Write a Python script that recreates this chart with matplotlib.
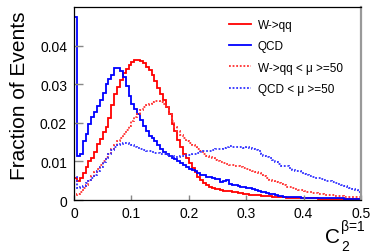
import numpy as np
import matplotlib
matplotlib.use('Agg')
import matplotlib.pyplot as plt

plt.rcParams['font.family'] = ['Liberation Sans', 'DejaVu Sans']

# histogramas: 100 bins de 0 a 0.5
bin_edges = np.linspace(0, 0.5, 101)

w_qq = [
    0.0058, 0.0048, 0.0058, 0.0070, 0.0085, 0.0100, 0.0110, 0.0125, 0.0145, 0.0158,
    0.0175, 0.0190, 0.0212, 0.0245, 0.0274, 0.0292, 0.0310, 0.0328, 0.0340, 0.0351,
    0.0357, 0.0364, 0.0364, 0.0360, 0.0355, 0.0346, 0.0336, 0.0323, 0.0308, 0.0290,
    0.0276, 0.0258, 0.0240, 0.0222, 0.0198, 0.0178, 0.0155, 0.0138, 0.0120, 0.0108,
    0.0096, 0.0084, 0.0072, 0.0060, 0.0052, 0.0045, 0.0040, 0.0035, 0.0032, 0.0029,
    0.0028, 0.0026, 0.0024, 0.0024, 0.0023, 0.0021, 0.0020, 0.0019, 0.0017, 0.0016,
    0.0015, 0.0014, 0.0014, 0.0013, 0.0012, 0.0011, 0.0011, 0.0010, 0.0010, 0.0009,
    0.0008, 0.0008, 0.0007, 0.0007, 0.0006, 0.0006, 0.0005, 0.0005, 0.0005, 0.0005,
    0.0004, 0.0004, 0.0004, 0.0004, 0.0004, 0.0003, 0.0003, 0.0003, 0.0003, 0.0003,
    0.0003, 0.0003, 0.0002, 0.0002, 0.0002, 0.0002, 0.0002, 0.0002, 0.0002, 0.0002,
]

qcd = [
    0.0475, 0.0114, 0.0118, 0.0153, 0.0170, 0.0196, 0.0214, 0.0227, 0.0244, 0.0260,
    0.0278, 0.0300, 0.0313, 0.0323, 0.0343, 0.0343, 0.0334, 0.0318, 0.0295, 0.0270,
    0.0248, 0.0235, 0.0222, 0.0208, 0.0192, 0.0180, 0.0167, 0.0160, 0.0153, 0.0142,
    0.0133, 0.0124, 0.0118, 0.0114, 0.0110, 0.0106, 0.0100, 0.0096, 0.0092, 0.0086,
    0.0080, 0.0079, 0.0074, 0.0071, 0.0066, 0.0064, 0.0060, 0.0059, 0.0058, 0.0055,
    0.0054, 0.0047, 0.0050, 0.0052, 0.0042, 0.0040, 0.0038, 0.0036, 0.0034, 0.0033,
    0.0032, 0.0030, 0.0028, 0.0025, 0.0023, 0.0021, 0.0020, 0.0018, 0.0016, 0.0015,
    0.0012, 0.0011, 0.0010, 0.0009, 0.0009, 0.0008, 0.0007, 0.0007, 0.0007, 0.0006,
    0.0006, 0.0006, 0.0006, 0.0005, 0.0005, 0.0005, 0.0005, 0.0005, 0.0004, 0.0004,
    0.0004, 0.0004, 0.0004, 0.0004, 0.0003, 0.0003, 0.0003, 0.0003, 0.0003, 0.0003,
]

w_qq_pu = [
    0.0012, 0.0016, 0.0022, 0.0030, 0.0040, 0.0050, 0.0062, 0.0072, 0.0080, 0.0092,
    0.0102, 0.0112, 0.0120, 0.0132, 0.0142, 0.0152, 0.0162, 0.0172, 0.0182, 0.0193,
    0.0204, 0.0216, 0.0224, 0.0233, 0.0240, 0.0246, 0.0250, 0.0254, 0.0256, 0.0257,
    0.0254, 0.0250, 0.0240, 0.0222, 0.0205, 0.0190, 0.0178, 0.0168, 0.0160, 0.0153,
    0.0147, 0.0143, 0.0138, 0.0132, 0.0126, 0.0120, 0.0115, 0.0111, 0.0108, 0.0104,
    0.0100, 0.0098, 0.0096, 0.0094, 0.0092, 0.0091, 0.0089, 0.0088, 0.0086, 0.0084,
    0.0081, 0.0079, 0.0076, 0.0073, 0.0070, 0.0066, 0.0061, 0.0057, 0.0053, 0.0050,
    0.0047, 0.0044, 0.0041, 0.0038, 0.0035, 0.0033, 0.0031, 0.0028, 0.0026, 0.0025,
    0.0023, 0.0021, 0.0020, 0.0019, 0.0018, 0.0016, 0.0015, 0.0014, 0.0013, 0.0013,
    0.0012, 0.0011, 0.0010, 0.0010, 0.0009, 0.0009, 0.0008, 0.0008, 0.0007, 0.0007,
]

qcd_pu = [
    0.0059, 0.0030, 0.0033, 0.0037, 0.0044, 0.0052, 0.0058, 0.0065, 0.0074, 0.0086,
    0.0098, 0.0110, 0.0120, 0.0130, 0.0137, 0.0142, 0.0146, 0.0149, 0.0148, 0.0145,
    0.0143, 0.0138, 0.0136, 0.0132, 0.0130, 0.0127, 0.0126, 0.0124, 0.0122, 0.0121,
    0.0119, 0.0118, 0.0117, 0.0115, 0.0113, 0.0112, 0.0112, 0.0113, 0.0114, 0.0116,
    0.0117, 0.0118, 0.0120, 0.0122, 0.0124, 0.0126, 0.0127, 0.0128, 0.0130, 0.0131,
    0.0132, 0.0133, 0.0135, 0.0137, 0.0139, 0.0138, 0.0137, 0.0138, 0.0137, 0.0136,
    0.0137, 0.0135, 0.0133, 0.0130, 0.0127, 0.0120, 0.0114, 0.0111, 0.0108, 0.0103,
    0.0098, 0.0094, 0.0089, 0.0087, 0.0088, 0.0082, 0.0079, 0.0076, 0.0074, 0.0071,
    0.0068, 0.0065, 0.0063, 0.0060, 0.0058, 0.0056, 0.0054, 0.0052, 0.0050, 0.0048,
    0.0046, 0.0044, 0.0042, 0.0040, 0.0037, 0.0034, 0.0031, 0.0028, 0.0025, 0.0022,
]

x_ticks = [0, 0.1, 0.2, 0.3, 0.4, 0.5]
x_labels = ['0', '0.1', '0.2', '0.3', '0.4', '0.5']
y_ticks = [0, 0.01, 0.02, 0.03, 0.04]
y_labels = ['0', '0.01', '0.02', '0.03', '0.04']

fig = plt.figure(figsize=(3.74, 2.53), dpi=100)
ax = fig.add_axes([0.198, 0.2055, 0.767, 0.7625])

ax.stairs(w_qq, bin_edges, color='#ff0000', lw=1.3, label='W->qq')
ax.stairs(qcd, bin_edges, color='#0000ff', lw=1.3, label='QCD')
ax.stairs(w_qq_pu, bin_edges, color='#ff3030', lw=1.3, ls=(0, (1, 1)), label='W->qq < μ >=50')
ax.stairs(qcd_pu, bin_edges, color='#3030ff', lw=1.3, ls=(0, (1, 1)), label='QCD < μ >=50')

ax.set_xlim(0, 0.5)
ax.set_ylim(0, 0.05)
ax.set_xticks(x_ticks)
ax.set_xticklabels(x_labels)
ax.set_yticks(y_ticks)
ax.set_yticklabels(y_labels)
ax.tick_params(axis='y', direction='in', length=6.5, width=1, color='#888888', labelsize=10, pad=5)
ax.tick_params(axis='x', direction='in', length=3.5, width=1, color='#888888', labelsize=10, pad=4)

for s in ['left', 'bottom', 'top']:
    ax.spines[s].set_color('black')
    ax.spines[s].set_linewidth(0.9)
ax.spines['right'].set_color('#999999')
ax.spines['right'].set_linewidth(1.6)

# titulos dos eixos
fig.text(20 / 374, 1 - 96 / 253, 'Fraction of Events', fontsize=15, rotation=90,
         ha='center', va='center')
fig.text(325 / 374, 1 - 243.5 / 253, 'C', fontsize=15, ha='left', va='baseline')
fig.text(341 / 374, 1 - 251.5 / 253, '2', fontsize=10, ha='left', va='baseline')
fig.text(341.5 / 374, 1 - 231 / 253, 'β=1', fontsize=10, ha='left', va='baseline')

ax.legend(loc='upper left', bbox_to_anchor=(0.539, 0.94), frameon=False, fontsize=8.5,
          handlelength=1.9, labelspacing=0.8, handletextpad=0.55, borderpad=0,
          borderaxespad=0)

fig.savefig('out.png', dpi=100)
